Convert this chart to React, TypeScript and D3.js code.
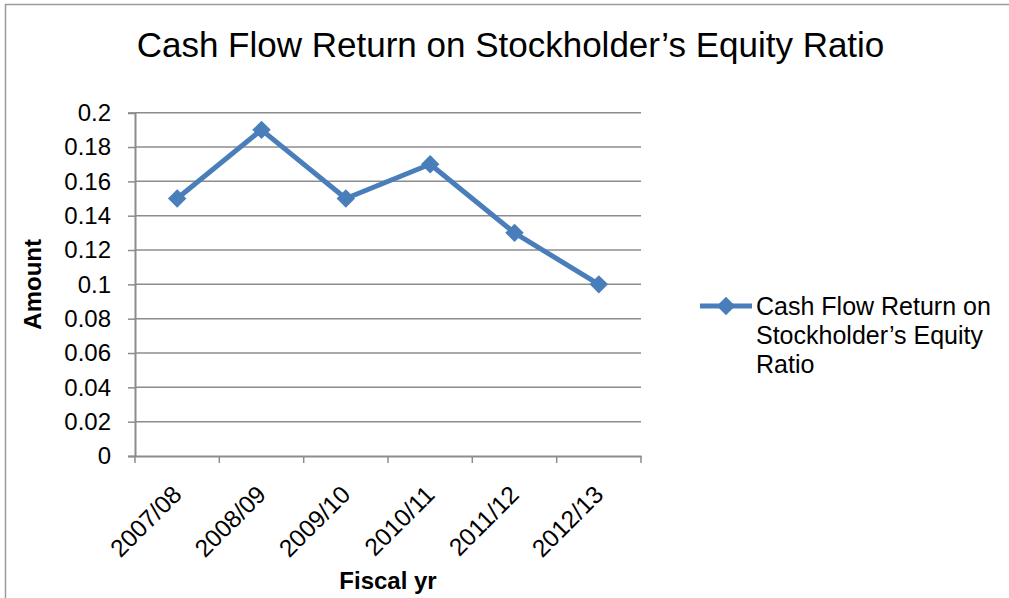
// React
import { useEffect, useRef } from 'react';

// Installed Packages
import * as d3 from 'd3';

const fiscalYears = ['2007/08', '2008/09', '2009/10', '2010/11', '2011/12', '2012/13'];
const ratioValues = [0.15, 0.19, 0.15, 0.17, 0.13, 0.10];
const yTicks = [0, 0.02, 0.04, 0.06, 0.08, 0.1, 0.12, 0.14, 0.16, 0.18, 0.2];
const seriesName = ['Cash Flow Return on', 'Stockholder\u2019s Equity', 'Ratio'];
const chartTitle = 'Cash Flow Return on Stockholder\u2019s Equity Ratio';

export default function App() {
    let ref = useRef<HTMLDivElement>(null);

    useEffect(() => {
        d3.select(ref.current).html("");

        const width = 1009;
        const height = 598;
        const plot = { left: 135, right: 641, top: 112.7, bottom: 456 };
        const font = "'Liberation Sans', Arial, sans-serif";
        const lineColor = '#4A7EBB';
        const gridColor = '#8C8C8C';

        const svg = d3.select(ref.current)
            .append("svg")
            .attr("width", width)
            .attr("height", height)
            .style("position", "absolute")
            .style("left", "0px")
            .style("top", "0px")
            .style("font-family", font);

        svg.append("rect")
            .attr("width", width)
            .attr("height", height)
            .attr("fill", "#fff");

        // outer chart border
        svg.append("rect")
            .attr("x", 5.5)
            .attr("y", 4.5)
            .attr("width", width + 20)
            .attr("height", height + 20)
            .attr("fill", "none")
            .attr("stroke", "#9a9a9a")
            .attr("stroke-width", 1.5);

        // title
        svg.append("text")
            .attr("x", 510.5)
            .attr("y", 57)
            .attr("text-anchor", "middle")
            .style("font-size", "35px")
            .text(chartTitle);

        const x = d3.scaleBand()
            .domain(fiscalYears)
            .range([plot.left, plot.right]);

        const y = d3.scaleLinear()
            .domain([0, 0.2])
            .range([plot.bottom, plot.top]);

        // gridlines
        svg.append("g")
            .selectAll("line")
            .data(yTicks.filter(t => t > 0))
            .join("line")
            .attr("x1", plot.left)
            .attr("x2", plot.right)
            .attr("y1", d => y(d))
            .attr("y2", d => y(d))
            .attr("stroke", gridColor)
            .attr("stroke-width", 1.5);

        // Y axis
        const yAxis = svg.append("g")
            .attr("transform", `translate(${plot.left}, 0)`)
            .call(d3.axisLeft(y).tickValues(yTicks).tickSize(7).tickPadding(17).tickFormat(d => String(d)));
        yAxis.select(".domain").attr("stroke", gridColor).attr("stroke-width", 2);
        yAxis.selectAll(".tick line").attr("stroke", gridColor).attr("stroke-width", 1.5);
        yAxis.selectAll(".tick text")
            .attr("fill", "#000")
            .style("font-size", "24px")
            .style("font-family", font);

        // X axis
        const xAxis = svg.append("g")
            .attr("transform", `translate(0, ${plot.bottom})`)
            .call(d3.axisBottom(x).tickSize(0).tickFormat(() => ''));
        xAxis.select(".domain").attr("stroke", gridColor).attr("stroke-width", 2);
        xAxis.selectAll(".tick text").remove();

        const boundaries = fiscalYears.map(d => x(d)!).concat([plot.right]);
        svg.append("g")
            .selectAll("line")
            .data(boundaries)
            .join("line")
            .attr("x1", d => d)
            .attr("x2", d => d)
            .attr("y1", plot.bottom)
            .attr("y2", plot.bottom + 7)
            .attr("stroke", gridColor)
            .attr("stroke-width", 1.5);

        svg.append("g")
            .selectAll("text")
            .data(fiscalYears)
            .join("text")
            .attr("transform", d => `translate(${x(d)! + x.bandwidth() / 2 + 6}, ${plot.bottom + 40}) rotate(-45)`)
            .attr("text-anchor", "end")
            .style("font-size", "24.5px")
            .text(d => d);

        // axis titles
        svg.append("text")
            .attr("transform", `translate(41, ${(plot.top + plot.bottom) / 2}) rotate(-90)`)
            .attr("text-anchor", "middle")
            .style("font-size", "24px")
            .style("font-weight", "bold")
            .text("Amount");

        svg.append("text")
            .attr("x", (plot.left + plot.right) / 2)
            .attr("y", 589)
            .attr("text-anchor", "middle")
            .style("font-size", "24px")
            .style("font-weight", "bold")
            .text("Fiscal yr");

        // series line
        const line = d3.line<number>()
            .x((d, i) => x(fiscalYears[i])! + x.bandwidth() / 2)
            .y(d => y(d));

        svg.append("path")
            .datum(ratioValues)
            .attr("d", line)
            .attr("fill", "none")
            .attr("stroke", lineColor)
            .attr("stroke-width", 5)
            .attr("stroke-linejoin", "round");

        const diamond = d3.symbol().type(d3.symbolSquare).size(170);
        svg.append("g")
            .selectAll("path")
            .data(ratioValues)
            .join("path")
            .attr("d", diamond)
            .attr("transform", (d, i) => `translate(${x(fiscalYears[i])! + x.bandwidth() / 2}, ${y(d)}) rotate(45)`)
            .attr("fill", lineColor);

        // legend
        const legend = svg.append("g");
        legend.append("line")
            .attr("x1", 700)
            .attr("x2", 752)
            .attr("y1", 306)
            .attr("y2", 306)
            .attr("stroke", lineColor)
            .attr("stroke-width", 5);
        legend.append("path")
            .attr("d", diamond)
            .attr("transform", "translate(726, 306) rotate(45)")
            .attr("fill", lineColor);
        legend.selectAll("text")
            .data(seriesName)
            .join("text")
            .attr("x", 756)
            .attr("y", (d, i) => 314.5 + i * 29)
            .style("font-size", "25px")
            .text(d => d);

    }, []);

    return <div ref={ref}></div>;
}
